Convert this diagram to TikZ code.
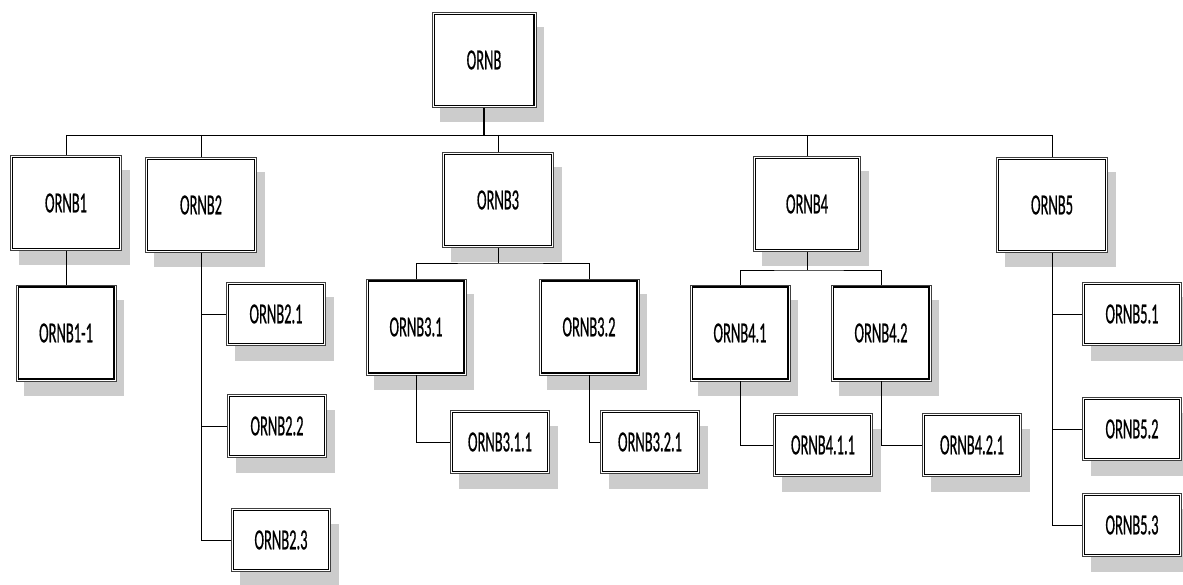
\documentclass[tikz,border=0pt]{standalone}
\usepackage{fontspec}
\usepackage{graphicx}
\setmainfont[FakeBold=0.9]{Carlito}
\usetikzlibrary{calc,shadows}
\newcommand{\boxlabel}[1]{\scalebox{0.5}[1]{#1}}
\tikzset{
   orgbox/.style={
     draw=black!75, line width=0.6pt, fill=white,
     drop shadow={shadow xshift=8pt, shadow yshift=-15pt, fill=black!20, opacity=1},
     font=\fontsize{29}{32}\selectfont
   },
   bigbox/.style={orgbox, minimum width=111pt, minimum height=95pt},
   midbox/.style={orgbox, minimum width=100pt, minimum height=96pt},
   smallbox/.style={orgbox, minimum width=99pt, minimum height=63pt},
   innerline/.style={draw=black, line width=1.4pt},
   link/.style={line width=0.8pt},
   mainlink/.style={line width=2pt}
}
\begin{document}
\begin{tikzpicture}[x=1pt,y=-1pt]
   \useasboundingbox (0,0) rectangle (1183,585);
   % top level
   \node[orgbox, minimum width=104pt, minimum height=95pt](root) at (484,60) {\boxlabel{ORNB}};
   % first level
   \node[bigbox](b1) at (66,203) {\boxlabel{ORNB1}};
   \node[bigbox](b2) at (201,205) {\boxlabel{ORNB2}};
   \node[bigbox](b3) at (498,200) {\boxlabel{ORNB3}};
   \node[bigbox, minimum width=107pt](b4) at (807,204) {\boxlabel{ORNB4}};
   \node[bigbox](b5) at (1052,205) {\boxlabel{ORNB5}};
   % second level
   \node[midbox](b11) at (66,333) {\boxlabel{ORNB1-1}};
   \node[smallbox](b21) at (276,314) {\boxlabel{ORNB2.1}};
   \node[smallbox](b22) at (277,426) {\boxlabel{ORNB2.2}};
   \node[smallbox](b23) at (281,540) {\boxlabel{ORNB2.3}};
   \node[midbox](b31) at (416,327) {\boxlabel{ORNB3.1}};
   \node[midbox](b32) at (589,327) {\boxlabel{ORNB3.2}};
   \node[midbox](b41) at (740,333) {\boxlabel{ORNB4.1}};
   \node[midbox](b42) at (881,333) {\boxlabel{ORNB4.2}};
   \node[smallbox](b51) at (1132,314) {\boxlabel{ORNB5.1}};
   \node[smallbox](b52) at (1132,429) {\boxlabel{ORNB5.2}};
   \node[smallbox](b53) at (1132,525) {\boxlabel{ORNB5.3}};
   % third level
   \node[smallbox](b311) at (500,442) {\boxlabel{ORNB3.1.1}};
   \node[smallbox](b321) at (650,442) {\boxlabel{ORNB3.2.1}};
   \node[smallbox](b411) at (823,445) {\boxlabel{ORNB4.1.1}};
   \node[smallbox](b421) at (972,445) {\boxlabel{ORNB4.2.1}};

   % inner frame of every box
   \foreach \n in {root,b1,b2,b3,b4,b5,b11,b21,b22,b23,b31,b32,b41,b42,b51,b52,b53,b311,b321,b411,b421}
      \draw[innerline] ($(\n.north west)+(2.5,2.5)$) rectangle ($(\n.south east)+(-2.5,-2.5)$);

   \coordinate (bus) at (484,135);
   \coordinate (bus3) at (498,263);
   \coordinate (bus4) at (807,270);

   \draw[mainlink] (root.south) -- (bus);
   \draw[link] (bus -| b1) -- (bus -| b5);
   \foreach \n in {b1,b2,b3,b4,b5}
      \draw[link] (bus -| \n) -- (\n.north);

   \draw[link] (b1.south) -- (b11.north);
   \foreach \n in {b21,b22,b23}
      \draw[link] (b2.south) |- (\n.west);
   \foreach \n in {b51,b52,b53}
      \draw[link] (b5.south) |- (\n.west);

   \draw[link] (b3.south) -- (bus3);
   \draw[link] (b31.north) |- (bus3) -| (b32.north);
   \draw[link] (b31.south) |- (b311.west);
   \draw[link] (b32.south) |- (b321.west);

   \draw[link] (b4.south) -- (bus4);
   \draw[link] (b41.north) |- (bus4) -| (b42.north);
   \draw[link] (b41.south) |- (b411.west);
   \draw[link] (b42.south) |- (b421.west);
\end{tikzpicture}
\end{document}
